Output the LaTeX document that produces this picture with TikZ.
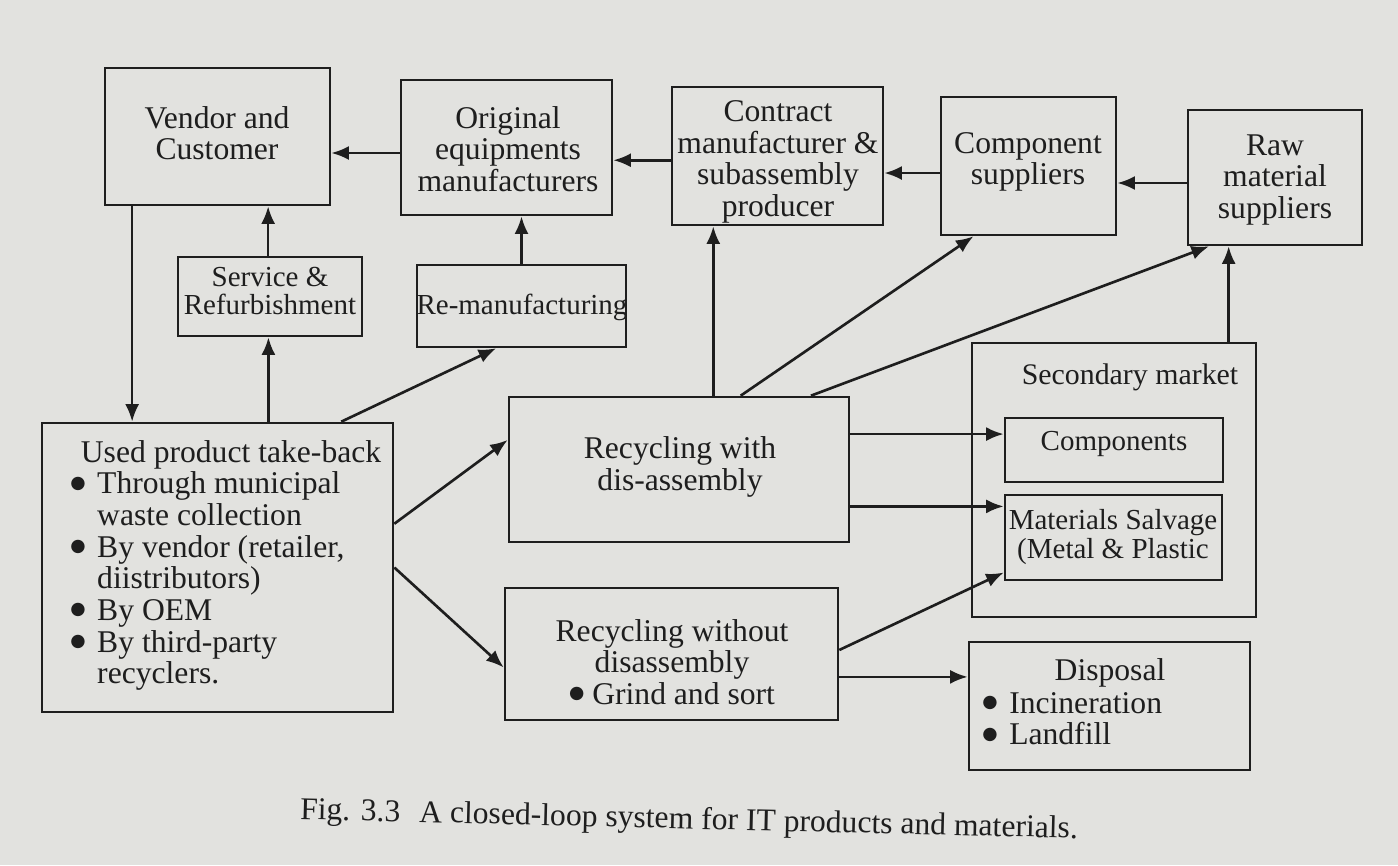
\documentclass[tikz,border=0pt]{standalone}
\usepackage{fontspec}
\setmainfont{Liberation Serif}
\newfontfamily\symfont{DejaVu Sans}
\usetikzlibrary{fit,calc,arrows.meta}
\definecolor{paper}{RGB}{226,226,223}
\definecolor{ink}{RGB}{30,30,30}
% large round bullet as printed in the list items
\newcommand{\bul}{\raisebox{3.2pt}{\symfont\fontsize{10}{10}\selectfont ●}}
\newcommand{\bitem}{\makebox[0.85em][l]{\bul}}
\newcommand{\bindent}{\hspace*{0.85em}}
\tikzset{
  box/.style={draw=ink, line width=1.5pt, inner sep=0pt},
  lbl/.style={text=ink, inner sep=0pt, align=center, font=\fontsize{18}{18}\selectfont},
  small/.style={font=\fontsize{16.5}{16.5}\selectfont},
  arr/.style={draw=ink, line width=1.5pt, -{Latex[length=10pt,width=8pt]}},
}
\begin{document}
\begin{tikzpicture}[x=0.02cm,y=-0.02cm]
\fill[paper] (0,0) rectangle (1398,865);
\useasboundingbox (0,0) rectangle (1398,865);

% supply chain boxes along the top
\node[box, fit={(105,68) (330,205)}] (vc) {};
\node[box, fit={(401,80) (612,215)}] (oem) {};
\node[box, fit={(672,87) (883,225)}] (cm) {};
\node[box, fit={(941,97) (1116,235)}] (cs) {};
\node[box, fit={(1188,110) (1362,245)}] (raw) {};

% reuse loops
\node[box, fit={(178,257) (362,336)}] (sr) {};
\node[box, fit={(417,265) (626,347)}] (rm) {};

% take-back and recycling
\node[box, fit={(42,423) (393,712)}] (up) {};
\node[box, fit={(509,397) (849,542)}] (rw) {};
\node[box, fit={(505,588) (838,720)}] (rwo) {};

% secondary market and disposal
\node[box, fit={(972,343) (1256,617)}] (sm) {};
\node[box, fit={(1005,418) (1223,482)}] (comp) {};
\node[box, fit={(1005,495) (1222,580)}] (ms) {};
\node[box, fit={(969,642) (1250,770)}] (disp) {};

% labels
\node[lbl] (t-vc) at (217,133) {Vendor and\\Customer};
\node[lbl] (t-oem) at (508,149) {Original\\equipments\\manufacturers};
\node[lbl] (t-cm) at (778,162) {Contract\\manufacturer \&\\subassembly\\producer};
\node[lbl] (t-cs) at (1028,162) {Component\\suppliers};
\node[lbl] (t-raw) at (1275,180) {Raw\\material\\suppliers};
\node[lbl,small] (t-sr) at (270,291) {Service \&\\Refurbishment};
\node[lbl,small] (t-rm) at (522,307) {Re-manufacturing};
\node[lbl] (t-rw) at (680,467) {Recycling with\\dis-assembly};
\node[lbl] (t-rwo) at (672,662) {Recycling without\\disassembly\\\bul\ Grind and sort};
\node[lbl, font=\fontsize{17}{17}\selectfont] (t-sm) at (1130,377) {Secondary market};
\node[lbl,small] (t-comp) at (1114,444) {Components};
\node[lbl,small] (t-ms) at (1113,537) {Materials Salvage\\(Metal \& Plastic};
\node[lbl] (t-disp) at (1110,673) {Disposal};
\node[lbl, anchor=north west, align=left] (t-displist) at (982,692)
  {\bitem Incineration\\\bitem Landfill};
\node[lbl, anchor=north west, align=left] (t-up) at (70,440)
  {\hspace*{6pt}Used product take-back\\
   \bitem Through municipal\\
   \bindent waste collection\\
   \bitem By vendor (retailer,\\
   \bindent diistributors)\\
   \bitem By OEM\\
   \bitem By third-party\\
   \bindent recyclers.};

% caption
\node[lbl, rotate=-1.4] (cap) at (689,821)
  {Fig. 3.3\hspace{0.6em}A closed-loop system for IT products and materials.};

% connectors: top row, right to left
\coordinate (p1) at ($(oem.north west)!0.54!(oem.south west)$);
\draw[arr] (p1) -- (p1 -| vc.east);
\coordinate (p2) at ($(cm.north west)!0.53!(cm.south west)$);
\draw[arr] (p2) -- (p2 -| oem.east);
\coordinate (p3) at ($(cs.north west)!0.55!(cs.south west)$);
\draw[arr] (p3) -- (p3 -| cm.east);
\coordinate (p4) at ($(raw.north west)!0.54!(raw.south west)$);
\draw[arr] (p4) -- (p4 -| cs.east);

% reuse loops
\coordinate (p5) at ($(sr.north west)!0.49!(sr.north east)$);
\draw[arr] (p5) -- (p5 |- vc.south);
\draw[arr] (rm.north) -- (rm.north |- oem.south);
\coordinate (p7) at ($(vc.south west)!0.125!(vc.south east)$);
\draw[arr] (p7) -- (p7 |- up.north);
\coordinate (p8) at ($(up.north west)!0.644!(up.north east)$);
\draw[arr] (p8) -- (p8 |- sr.south);
\coordinate (p9) at ($(up.north west)!0.85!(up.north east)$);
\coordinate (q9) at ($(rm.south west)!0.38!(rm.south east)$);
\draw[arr] (p9) -- (q9);

% take-back to recycling
\coordinate (p10) at ($(up.north east)!0.35!(up.south east)$);
\coordinate (q10) at ($(rw.north west)!0.3!(rw.south west)$);
\draw[arr] (p10) -- (q10);
\coordinate (p11) at ($(up.north east)!0.5!(up.south east)$);
\coordinate (q11) at ($(rwo.north west)!0.6!(rwo.south west)$);
\draw[arr] (p11) -- (q11);

% recycling back to suppliers
\coordinate (p12) at ($(rw.north west)!0.6!(rw.north east)$);
\draw[arr] (p12) -- (p12 |- cm.south);
\coordinate (p13) at ($(rw.north west)!0.68!(rw.north east)$);
\coordinate (q13) at ($(cs.south west)!0.19!(cs.south east)$);
\draw[arr] (p13) -- (q13);
\coordinate (p14) at ($(rw.north west)!0.885!(rw.north east)$);
\coordinate (q14) at ($(raw.south west)!0.126!(raw.south east)$);
\draw[arr] (p14) -- (q14);
\coordinate (p15) at ($(sm.north west)!0.9!(sm.north east)$);
\draw[arr] (p15) -- (p15 |- raw.south);

% recycling to secondary market and disposal
\coordinate (p16) at ($(rw.north east)!0.26!(rw.south east)$);
\draw[arr] (p16) -- (p16 -| comp.west);
\coordinate (p17) at ($(rw.north east)!0.75!(rw.south east)$);
\draw[arr] (p17) -- (p17 -| ms.west);
\coordinate (p18) at ($(rwo.north east)!0.47!(rwo.south east)$);
\coordinate (q18) at ($(ms.north west)!0.9!(ms.south west)$);
\draw[arr] (p18) -- (q18);
\coordinate (p19) at ($(rwo.north east)!0.67!(rwo.south east)$);
\draw[arr] (p19) -- (p19 -| disp.west);
\end{tikzpicture}
\end{document}
